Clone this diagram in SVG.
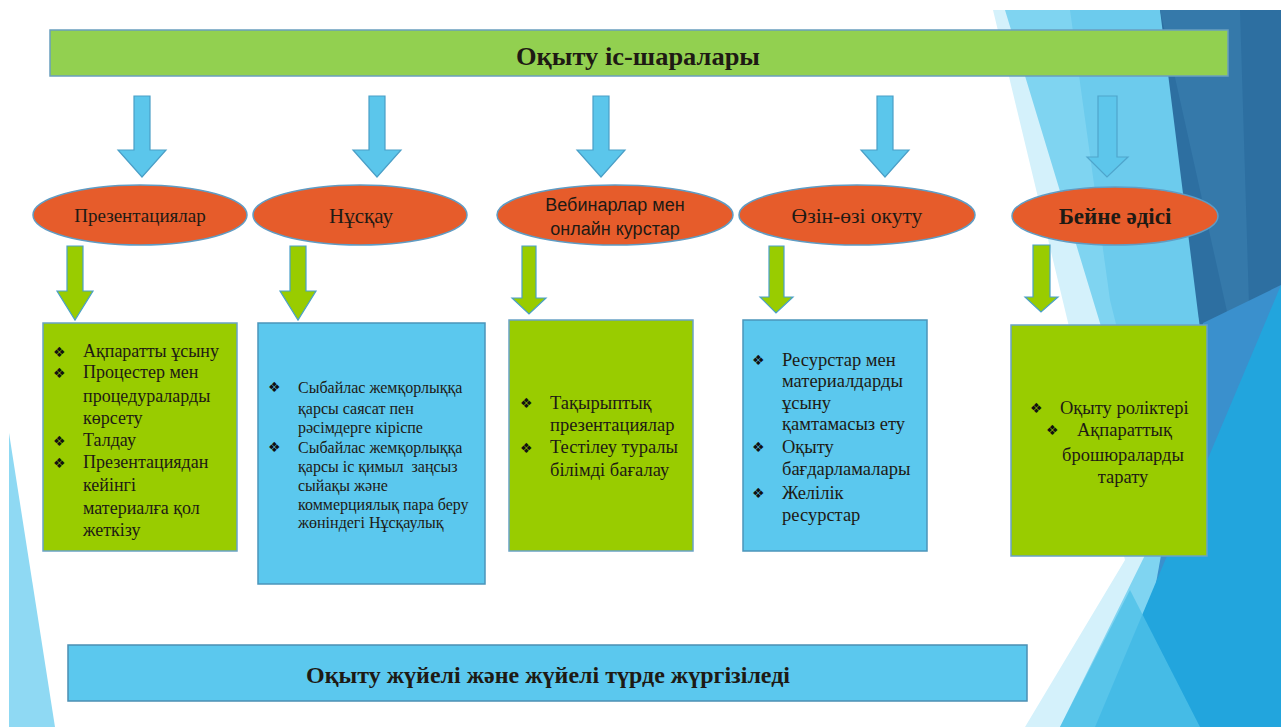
<svg xmlns="http://www.w3.org/2000/svg" width="1281" height="727" viewBox="0 0 1281 727">
<style>
.ser{font-family:"Liberation Serif","Times New Roman",serif;fill:#1e1a14}
.san{font-family:"Liberation Sans",Arial,sans-serif;fill:#1e1a14}
.bul{font-family:"DejaVu Sans",sans-serif;font-size:14px;fill:#111}
.ell{fill:#e65c2b;stroke:#5f9cc4;stroke-width:1.5}
.gbox{fill:#99cc00;stroke:#6aa3c6;stroke-width:1.5}
.bbox{fill:#5bc8ee;stroke:#4b95ba;stroke-width:1.5}
.barr{fill:#5bc6eb;stroke:#4a9fc7;stroke-width:1.2}
.garr{fill:#99cc00;stroke:#4aa0c8;stroke-width:1.2}
.bt{font-size:18.5px}
</style>
<rect width="1281" height="727" fill="#ffffff"/>
<g id="background">
  <polygon points="9,433 9,727 55,727" fill="#8fd9f3"/>
  <polygon points="993,10 1281,10 1281,727 1025,727 1125,560" fill="#d4f1fb"/>
  <polygon points="1005,10 1281,10 1281,727 1060,727 1150,545 1100,323" fill="#7fd4f1"/>
  <polygon points="1070,10 1281,10 1281,727 1120,727 1170,540 1110,300" fill="#6ccbed"/>
  <polygon points="1160,10 1281,10 1281,727 1250,727" fill="#2d6fa1"/>
  <polygon points="1160,10 1240,10 1258,600 1236,352" fill="#3579aa"/>
  <polygon points="1203,323 1281,285 1281,727 1130,727" fill="#3a90cd"/>
  <polygon points="1281,285 1281,727 1095,727" fill="#22a5dd"/>
  <polygon points="1060,727 1130,590 1200,727" fill="#4fc0e9" opacity="0.8"/>
</g>
<g id="top-bar">
  <rect x="50" y="30" width="1178" height="46" fill="#92d050" stroke="#6a9fbe" stroke-width="1.5"/>
  <text x="638" y="65" class="ser" font-size="25" font-weight="bold" text-anchor="middle" textLength="244" lengthAdjust="spacingAndGlyphs">Оқыту іс-шаралары</text>
</g>
<g id="connectors">
  <polygon class="barr" points="134,96 150,96 150,150 166,150 142,177 118,150 134,150"/>
  <polygon class="barr" points="369,96 385,96 385,150 401,150 377,177 353,150 369,150"/>
  <polygon class="barr" points="593,96 609,96 609,150 625,150 601,177 577,150 593,150"/>
  <polygon class="barr" points="877,96 893,96 893,150 909,150 885,177 861,150 877,150"/>
  <polygon class="barr" points="1098,96 1117,96 1117,157 1128,157 1107,177 1087,157 1098,157" opacity="0.85"/>
  <polygon class="garr" points="67,246 83,246 83,291 93,291 75,320 57,291 67,291"/>
  <polygon class="garr" points="290,246 306,246 306,291 316,291 298,320 280,291 290,291"/>
  <polygon class="garr" points="522,246 536,246 536,298 546,298 529,314 512,298 522,298"/>
  <polygon class="garr" points="769,246 784,246 784,297 793,297 776,313 760,297 769,297"/>
  <polygon class="garr" points="1033,245 1050,245 1050,297 1058,297 1041,312 1025,297 1033,297"/>
</g>
<g id="node-presentations">
  <ellipse class="ell" cx="140" cy="215" rx="107" ry="30"/>
  <text x="140" y="222" class="ser" font-size="19" text-anchor="middle">Презентациялар</text>
</g>
<g id="node-instruction">
  <ellipse class="ell" cx="360" cy="215" rx="107" ry="30"/>
  <text x="361" y="223" class="ser" font-size="21" text-anchor="middle">Нұсқау</text>
</g>
<g id="node-webinars">
  <ellipse class="ell" cx="615" cy="215" rx="118" ry="30"/>
  <text x="615" y="211" class="san" font-size="18" text-anchor="middle">Вебинарлар мен</text>
  <text x="615" y="235" class="san" font-size="18" text-anchor="middle">онлайн курстар</text>
</g>
<g id="node-selfstudy">
  <ellipse class="ell" cx="857" cy="215" rx="118" ry="30"/>
  <text x="857" y="223" class="ser" font-size="21.5" text-anchor="middle">Өзін-өзі окуту</text>
</g>
<g id="node-video">
  <ellipse class="ell" cx="1115" cy="216" rx="103" ry="29"/>
  <text x="1115" y="224" class="ser" font-size="23" font-weight="bold" text-anchor="middle">Бейне әдісі</text>
</g>
<g id="box-presentations">
  <rect class="gbox" x="43" y="323" width="194" height="228"/>
  <g class="bul"><text x="53" y="357">❖</text><text x="53" y="378">❖</text><text x="53" y="446">❖</text><text x="53" y="468">❖</text></g>
  <g class="ser" font-size="18">
    <text x="83" y="357">Ақпаратты ұсыну</text>
    <text x="83" y="378">Процестер мен</text>
    <text x="83" y="402">процедураларды</text>
    <text x="83" y="424">көрсету</text>
    <text x="83" y="446">Талдау</text>
    <text x="83" y="468">Презентациядан</text>
    <text x="83" y="491">кейінгі</text>
    <text x="83" y="514">материалға қол</text>
    <text x="83" y="536">жеткізу</text>
  </g>
</g>
<g id="box-instruction">
  <rect class="bbox" x="258" y="323" width="227" height="261"/>
  <g class="bul"><text x="268" y="392">❖</text><text x="268" y="452">❖</text></g>
  <g class="ser" font-size="16">
    <text x="298" y="393">Сыбайлас жемқорлыққа</text>
    <text x="298" y="414">қарсы саясат пен</text>
    <text x="298" y="433">рәсімдерге кіріспе</text>
    <text x="298" y="453">Сыбайлас жемқорлыққа</text>
    <text x="298" y="472" xml:space="preserve">қарсы іс қимыл  заңсыз</text>
    <text x="298" y="491">сыйақы және</text>
    <text x="298" y="510">коммерциялық пара беру</text>
    <text x="298" y="528">жөніндегі Нұсқаулық</text>
  </g>
</g>
<g id="box-webinars">
  <rect class="gbox" x="509" y="320" width="184" height="231"/>
  <g class="bul"><text x="520" y="408">❖</text><text x="520" y="453">❖</text></g>
  <g class="ser bt">
    <text x="550" y="409">Тақырыптық</text>
    <text x="550" y="431">презентациялар</text>
    <text x="550" y="453">Тестілеу туралы</text>
    <text x="550" y="476">білімді бағалау</text>
  </g>
</g>
<g id="box-selfstudy">
  <rect class="bbox" x="743" y="320" width="184" height="231"/>
  <g class="bul"><text x="752" y="365">❖</text><text x="752" y="452">❖</text><text x="752" y="498">❖</text></g>
  <g class="ser bt">
    <text x="782" y="366">Ресурстар мен</text>
    <text x="782" y="387">материалдарды</text>
    <text x="782" y="409">ұсыну</text>
    <text x="782" y="430">қамтамасыз ету</text>
    <text x="782" y="453">Оқыту</text>
    <text x="782" y="475">бағдарламалары</text>
    <text x="782" y="499">Желілік</text>
    <text x="782" y="521">ресурстар</text>
  </g>
</g>
<g id="box-video">
  <rect class="gbox" x="1011" y="325" width="196" height="231"/>
  <g class="bul"><text x="1030" y="413">❖</text><text x="1046" y="435">❖</text></g>
  <g class="ser bt">
    <text x="1060" y="414">Оқыту роліктері</text>
    <text x="1077" y="436">Ақпараттық</text>
    <text x="1123" y="461" text-anchor="middle">брошюраларды</text>
    <text x="1123" y="483" text-anchor="middle">тарату</text>
  </g>
</g>
<g id="bottom-bar">
  <rect x="68" y="645" width="959" height="56" fill="#5bc8ee" stroke="#4b8fb3" stroke-width="1.5"/>
  <text x="548" y="683" class="ser" font-size="23" font-weight="bold" text-anchor="middle" textLength="484" lengthAdjust="spacingAndGlyphs">Оқыту жүйелі және жүйелі түрде жүргізіледі</text>
</g>
</svg>
